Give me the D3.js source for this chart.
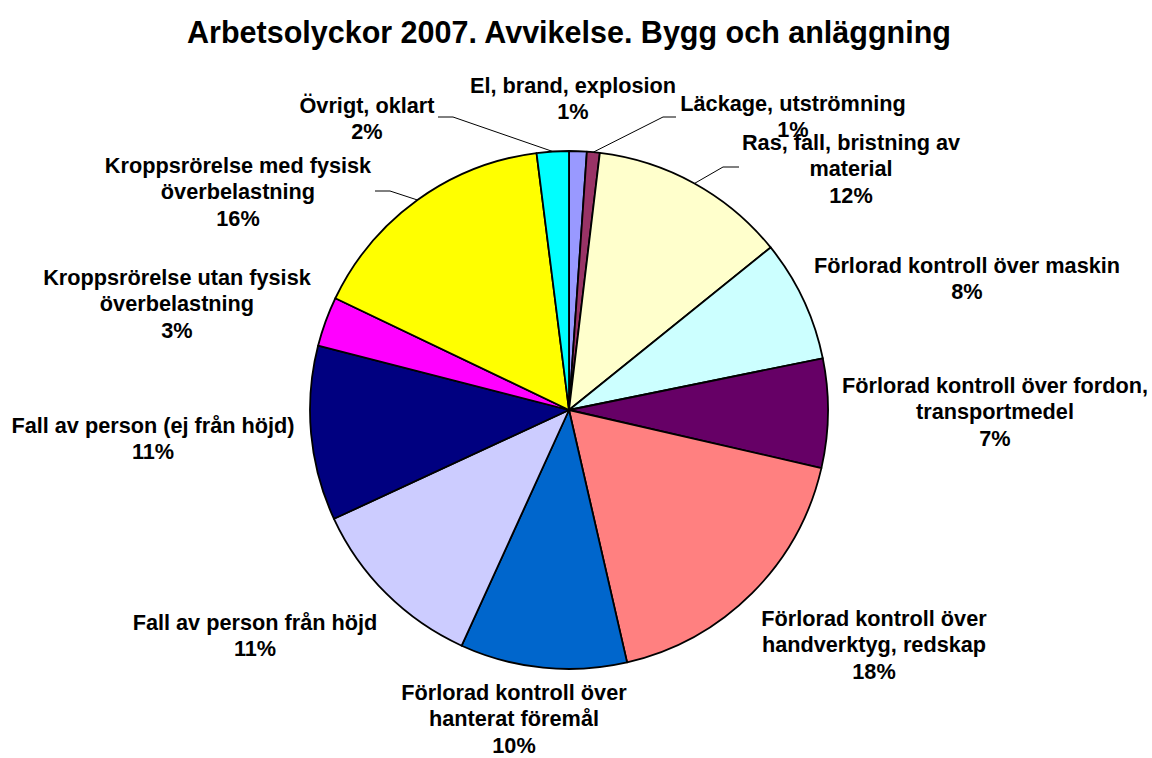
<!DOCTYPE html>
<html>
<head>
<meta charset="utf-8">
<script src="https://cdn.jsdelivr.net/npm/d3@7"></script>
<style>
  body { margin: 0; background: #fff; }
  text { font-family: "Liberation Sans", Arial, sans-serif; font-weight: bold; fill: #000; }
</style>
</head>
<body>
<svg id="chart"></svg>
<script>
// slices, clockwise from 12 o'clock
var categories = [
    ["El, brand, explosion"],
    ["Läckage, utströmning"],
    ["Ras, fall, bristning av", "material"],
    ["Förlorad kontroll över maskin"],
    ["Förlorad kontroll över fordon,", "transportmedel"],
    ["Förlorad kontroll över", "handverktyg, redskap"],
    ["Förlorad kontroll över", "hanterat föremål"],
    ["Fall av person från höjd"],
    ["Fall av person (ej från höjd)"],
    ["Kroppsrörelse utan fysisk", "överbelastning"],
    ["Kroppsrörelse med fysisk", "överbelastning"],
    ["Övrigt, oklart"]
];
var values = [1.1, 0.8, 12.3, 7.6, 6.8, 17.8, 10.4, 11.3, 10.9, 3.1, 15.9, 2.0];
var colors = ["#9999FF", "#993366", "#FFFFCC", "#CCFFFF", "#660066", "#FF8080",
              "#0066CC", "#CCCCFF", "#000080", "#FF00FF", "#FFFF00", "#00FFFF"];
var title = "Arbetsolyckor 2007. Avvikelse. Bygg och anläggning";

// label layout (centre x, first line centre y) and leader elbows
var labelPos = [[573, 85], [793, 103], [851, 142], [967, 265], [995, 385], [874, 618],
                [514, 692], [255, 622], [153, 425], [177, 277], [238, 165], [367, 105]];
var leaders = {1: [[663, 117], [676, 117]], 2: [[723, 167], [739, 167]],
               10: [[390, 191], [375, 191]], 11: [[453, 117], [438, 117]]};

var config = {
    width: 1152,
    height: 758,
    cx: 569,
    cy: 410,
    radius: 259,
    fontSize: 21.7,
    lineHeight: 26.5
};

var svg = d3.select("#chart")
    .attr("width", config.width)
    .attr("height", config.height);

svg.append("rect")
    .attr("width", config.width)
    .attr("height", config.height)
    .attr("fill", "#fff");

svg.append("text")
    .attr("x", config.cx)
    .attr("y", 43)
    .attr("text-anchor", "middle")
    .style("font-size", "30.5px")
    .text(title);

var pie = d3.pie().sort(null).value(function(d) { return d; });
var arcs = pie(values);
var arc = d3.arc().innerRadius(0).outerRadius(config.radius);
var edge = d3.arc().innerRadius(config.radius).outerRadius(config.radius);

var g = svg.append("g")
    .attr("transform", "translate(" + config.cx + "," + config.cy + ")");

g.selectAll("path")
    .data(arcs)
    .enter()
    .append("path")
    .attr("d", arc)
    .attr("fill", function(d, i) { return colors[i]; })
    .attr("stroke", "#000")
    .attr("stroke-width", 1.8)
    .attr("stroke-linejoin", "round");

// leader lines
Object.keys(leaders).forEach(function(k) {
    var p = edge.centroid(arcs[k]);
    var pts = [[p[0] + config.cx, p[1] + config.cy]].concat(leaders[k]);
    svg.append("path")
        .attr("d", d3.line()(pts))
        .attr("fill", "none")
        .attr("stroke", "#000")
        .attr("stroke-width", 1);
});

// labels
categories.forEach(function(lines, i) {
    var t = svg.append("text")
        .attr("text-anchor", "middle")
        .style("font-size", config.fontSize + "px");
    lines.concat([Math.round(values[i]) + "%"]).forEach(function(s, j) {
        t.append("tspan")
            .attr("x", labelPos[i][0])
            .attr("y", labelPos[i][1] + j * config.lineHeight)
            .attr("dy", "0.36em")
            .text(s);
    });
});
</script>
</body>
</html>
